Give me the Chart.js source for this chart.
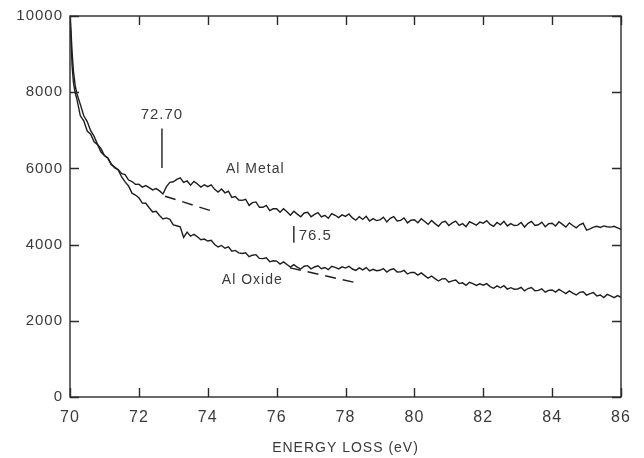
<!DOCTYPE html>
<html>
<head>
<meta charset="utf-8">
<script src="https://cdn.jsdelivr.net/npm/chart.js@4.4.0/dist/chart.umd.min.js"></script>
<style>
  html, body { margin: 0; padding: 0; background: #fff; }
  canvas { display: block; }
</style>
</head>
<body>
<canvas id="eels_chart" width="644" height="458"></canvas>
<script>
// energy loss (eV), shared by both spectra
const energy = [
  70.0, 70.03, 70.06, 70.1, 70.15, 70.2, 70.3, 70.4, 70.5, 70.6, 70.7, 70.8, 70.9,
  71.0, 71.1, 71.2, 71.3, 71.4, 71.5, 71.6, 71.7, 71.8, 71.9,
  72.0, 72.1, 72.2, 72.3, 72.4, 72.5, 72.6, 72.7, 72.8, 72.9,
  73.0, 73.1, 73.2, 73.3, 73.4, 73.5, 73.6, 73.7, 73.8, 73.9,
  74.0, 74.1, 74.2, 74.3, 74.4, 74.5, 74.6, 74.7, 74.8, 74.9,
  75.0, 75.1, 75.2, 75.3, 75.4, 75.5, 75.6, 75.7, 75.8, 75.9,
  76.0, 76.1, 76.2, 76.3, 76.4, 76.5, 76.6, 76.7, 76.8, 76.9,
  77.0, 77.1, 77.2, 77.3, 77.4, 77.5, 77.6, 77.7, 77.8, 77.9,
  78.0, 78.1, 78.2, 78.3, 78.4, 78.5, 78.6, 78.7, 78.8, 78.9,
  79.0, 79.1, 79.2, 79.3, 79.4, 79.5, 79.6, 79.7, 79.8, 79.9,
  80.0, 80.1, 80.2, 80.3, 80.4, 80.5, 80.6, 80.7, 80.8, 80.9,
  81.0, 81.1, 81.2, 81.3, 81.4, 81.5, 81.6, 81.7, 81.8, 81.9,
  82.0, 82.1, 82.2, 82.3, 82.4, 82.5, 82.6, 82.7, 82.8, 82.9,
  83.0, 83.1, 83.2, 83.3, 83.4, 83.5, 83.6, 83.7, 83.8, 83.9,
  84.0, 84.1, 84.2, 84.3, 84.4, 84.5, 84.6, 84.7, 84.8, 84.9,
  85.0, 85.1, 85.2, 85.3, 85.4, 85.5, 85.6, 85.7, 85.8, 85.9,
  86.0
];

const alMetal = [
  10000, 9400, 8700, 8250, 7980, 7820, 7380, 7250, 6980, 6900, 6700, 6620, 6430,
  6340, 6275, 6115, 6010, 5970, 5860, 5835, 5695, 5655, 5580,
  5585, 5510, 5550, 5495, 5435, 5470, 5410, 5330, 5520, 5635,
  5650, 5710, 5750, 5630, 5670, 5560, 5660, 5590, 5510, 5570,
  5520, 5570, 5450, 5380, 5460, 5360, 5400, 5240, 5260, 5170,
  5160, 5190, 5030, 5100, 5120, 4980, 4980, 5030, 4890, 4940,
  4940, 4850, 4940, 4860, 4770, 4875, 4800, 4730, 4830, 4850,
  4730, 4795, 4840, 4725, 4770, 4690, 4815, 4770, 4710, 4780,
  4740, 4805, 4700, 4640, 4730, 4660, 4745, 4620, 4680, 4630,
  4650, 4720, 4595, 4690, 4735, 4620, 4635, 4700, 4570, 4640,
  4650, 4575, 4680, 4605, 4530, 4630, 4550, 4480, 4585, 4610,
  4500, 4570, 4615, 4505, 4550, 4470, 4600, 4560, 4510, 4590,
  4560, 4630, 4530, 4480, 4580, 4520, 4610, 4490, 4550, 4500,
  4510, 4580, 4460, 4560, 4610, 4500, 4520, 4590, 4470, 4550,
  4560, 4490, 4600, 4530, 4460, 4570, 4500, 4440, 4520, 4560,
  4380, 4410, 4460, 4480, 4450, 4490, 4470, 4460, 4480, 4440,
  4400
];

const alOxide = [
  10000, 9600, 9050, 8550, 8180, 7960, 7680, 7380, 7230, 6990, 6840, 6630, 6520,
  6340, 6265, 6095, 6035, 5960, 5775, 5645, 5540, 5350, 5300,
  5228, 5089, 5086, 4967, 4858, 4875, 4766, 4674, 4701, 4662,
  4515, 4494, 4469, 4190, 4327, 4221, 4272, 4204, 4129, 4145,
  4094, 4113, 4003, 3938, 3978, 3906, 3939, 3825, 3847, 3782,
  3766, 3785, 3681, 3721, 3736, 3639, 3633, 3652, 3548, 3574,
  3568, 3489, 3546, 3477, 3408, 3475, 3406, 3359, 3431, 3447,
  3365, 3412, 3445, 3366, 3399, 3341, 3430, 3400, 3363, 3417,
  3384, 3431, 3359, 3322, 3390, 3336, 3397, 3311, 3351, 3314,
  3326, 3370, 3281, 3341, 3366, 3279, 3283, 3322, 3228, 3269,
  3268, 3199, 3256, 3187, 3118, 3175, 3106, 3044, 3101, 3107,
  3015, 3049, 3069, 2977, 2997, 2931, 3012, 2974, 2929, 2970,
  2934, 2975, 2897, 2854, 2916, 2866, 2923, 2833, 2869, 2828,
  2836, 2877, 2785, 2847, 2874, 2789, 2797, 2840, 2750, 2800,
  2808, 2753, 2824, 2769, 2714, 2785, 2728, 2678, 2747, 2760,
  2675, 2714, 2739, 2652, 2677, 2611, 2692, 2654, 2609, 2660,
  2615
];

// extrapolated pre-edge backgrounds (dashed)
const metalBgX = [72.76, 74.12];
const metalBgY = [5270, 4880];
const oxideBgX = [76.39, 78.35];
const oxideBgY = [3390, 2990];

// edge markers
const edge1X = [72.67, 72.67];
const edge1Y = [6010, 7050];
const edge2X = [76.5, 76.5];
const edge2Y = [4050, 4490];

// text annotations
const noteText = ['72.70', 'Al Metal', '76.5', 'Al Oxide'];
const noteX = [72.67, 74.53, 76.64, 74.41];
const noteY = [7415, 5980, 4230, 3055];
const noteAlign = ['center', 'left', 'left', 'left'];
const noteSize = [15, 14, 15, 14];

const xTicks = [70, 72, 74, 76, 78, 80, 82, 84, 86];
const yTicks = [0, 2000, 4000, 6000, 8000, 10000];

const INK = '#1e1e1e';
const TEXT = '#3a3a3a';
const FONT = "'Liberation Sans', Arial, sans-serif";

const pts = (xs, ys) => xs.map((x, i) => ({ x: x, y: ys[i] }));

const lineSet = (data, dash) => ({
  data: data,
  borderColor: INK,
  borderWidth: 1.4,
  borderDash: dash || [],
  pointRadius: 0,
  tension: 0,
  fill: false
});

// wide typewriter-like spacing for all labels
const spacingPlugin = {
  id: 'spacing',
  beforeDraw(chart) { chart.ctx.letterSpacing = '1px'; }
};

// box frame with inward ticks on all four sides, plus annotations
const framePlugin = {
  id: 'frame',
  afterDraw(chart) {
    const { ctx, chartArea: a, scales } = chart;
    const len = 9;
    ctx.save();
    ctx.strokeStyle = '#2a2a2a';
    ctx.lineWidth = 1.4;
    ctx.strokeRect(a.left, a.top, a.right - a.left, a.bottom - a.top);
    ctx.beginPath();
    xTicks.forEach((v) => {
      const px = Math.round(scales.x.getPixelForValue(v)) + 0.5;
      ctx.moveTo(px, a.bottom); ctx.lineTo(px, a.bottom - len);
      ctx.moveTo(px, a.top); ctx.lineTo(px, a.top + len);
    });
    yTicks.forEach((v) => {
      const py = Math.round(scales.y.getPixelForValue(v)) + 0.5;
      ctx.moveTo(a.left, py); ctx.lineTo(a.left + len, py);
      ctx.moveTo(a.right, py); ctx.lineTo(a.right - len, py);
    });
    ctx.stroke();

    ctx.fillStyle = TEXT;
    ctx.letterSpacing = '1px';
    ctx.textBaseline = 'middle';
    noteText.forEach((t, i) => {
      ctx.font = noteSize[i] + 'px ' + FONT;
      ctx.textAlign = noteAlign[i];
      ctx.fillText(t, scales.x.getPixelForValue(noteX[i]), scales.y.getPixelForValue(noteY[i]));
    });
    ctx.restore();
  }
};

const ctx = document.getElementById('eels_chart').getContext('2d');

new Chart(ctx, {
  type: 'line',
  data: {
    datasets: [
      lineSet(pts(energy, alMetal)),
      lineSet(pts(energy, alOxide)),
      lineSet(pts(metalBgX, metalBgY), [11, 7]),
      lineSet(pts(oxideBgX, oxideBgY), [11, 7]),
      lineSet(pts(edge1X, edge1Y)),
      lineSet(pts(edge2X, edge2Y))
    ]
  },
  options: {
    responsive: false,
    animation: false,
    layout: { padding: { top: 14, right: 23, left: 0, bottom: 0 } },
    plugins: {
      legend: { display: false },
      tooltip: { enabled: false }
    },
    scales: {
      x: {
        type: 'linear',
        min: 70,
        max: 86,
        afterFit: (s) => { s.height = 61; },
        afterBuildTicks: (s) => { s.ticks = xTicks.map((v) => ({ value: v })); },
        grid: { display: false, drawTicks: false },
        border: { display: false },
        ticks: {
          padding: 11,
          color: TEXT,
          font: { family: FONT, size: 16 },
          maxRotation: 0,
          callback: (v) => String(v)
        },
        title: {
          display: true,
          text: 'ENERGY LOSS (eV)',
          color: TEXT,
          font: { family: FONT, size: 14 },
          padding: { top: 0, bottom: 1 }
        }
      },
      y: {
        type: 'linear',
        min: 0,
        max: 10000,
        afterFit: (s) => { s.width = 70; },
        afterBuildTicks: (s) => { s.ticks = yTicks.map((v) => ({ value: v })); },
        grid: { display: false, drawTicks: false },
        border: { display: false },
        ticks: {
          padding: 7,
          color: TEXT,
          font: { family: FONT, size: 15 },
          callback: (v) => String(v)
        }
      }
    }
  },
  plugins: [spacingPlugin, framePlugin]
});
</script>
</body>
</html>
